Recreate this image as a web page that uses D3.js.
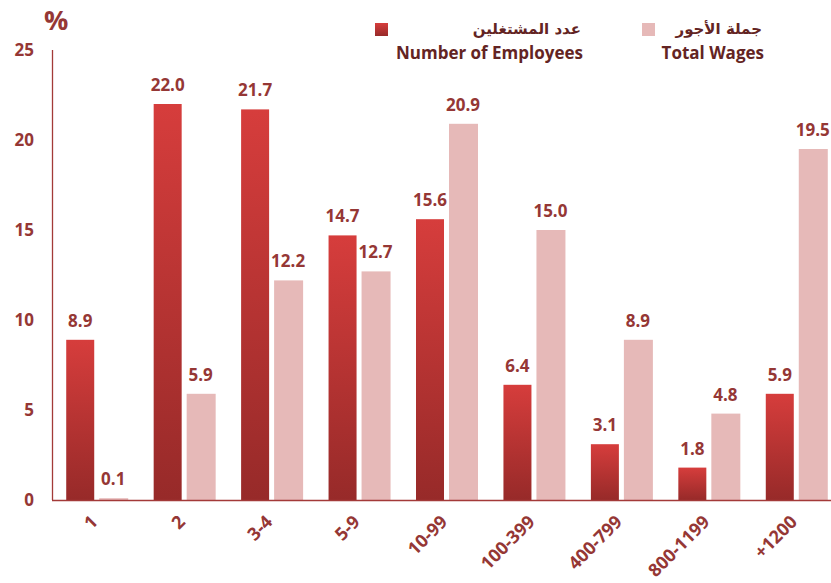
<!DOCTYPE html>
<html>
<head>
<meta charset="utf-8">
<script src="https://cdn.jsdelivr.net/npm/d3@7"></script>
<style>
  body { margin: 0; background: #fff; }
  text { font-family: "Open Sans", "DejaVu Sans", sans-serif; font-weight: bold; }
</style>
</head>
<body>
<svg></svg>
<script>
const width = 831;
const height = 583;

const categories = ["1", "2", "3-4", "5-9", "10-99", "100-399", "400-799", "800-1199", "+1200"];
const employees = [8.9, 22.0, 21.7, 14.7, 15.6, 6.4, 3.1, 1.8, 5.9];
const wages = [0.1, 5.9, 12.2, 12.7, 20.9, 15.0, 8.9, 4.8, 19.5];
const yTicks = [0, 5, 10, 15, 20, 25];

const labelColor = "#953735";
const legendColor = "#632423";

const svg = d3.select('svg').attr('width', width).attr('height', height);

const defs = svg.append('defs');
const grad = defs.append('linearGradient').attr('id', 'darkGrad')
    .attr('x1', 0).attr('y1', 0).attr('x2', 0).attr('y2', 1);
grad.append('stop').attr('offset', '0%').attr('stop-color', '#d63d3c');
grad.append('stop').attr('offset', '100%').attr('stop-color', '#972a29');

const x = d3.scaleBand().domain(categories).range([52, 839]).paddingInner(0).paddingOuter(0);
const y = d3.scaleLinear().domain([0, 25]).range([500, 50]);
const barW = 28, gap = 5;

// y axis line
svg.append('line').attr('x1', 52.5).attr('x2', 52.5).attr('y1', y(25)).attr('y2', y(0))
    .attr('stroke', '#a33a38').attr('stroke-width', 1.3);

// y tick labels
svg.selectAll('.ytick').data(yTicks).join('text')
    .attr('class', 'ytick')
    .attr('x', 34).attr('y', d => y(d) + 6)
    .attr('text-anchor', 'end')
    .attr('fill', labelColor)
    .style('font-size', '17px')
    .text(d => d);

svg.append('text').attr('x', 44).attr('y', 30)
    .attr('fill', labelColor).style('font-size', '27px').text('%');

// bars
const groups = svg.selectAll('.grp').data(categories).join('g')
    .attr('class', 'grp')
    .attr('transform', d => `translate(${x(d) + x.bandwidth() / 2},0)`);

groups.append('rect')
    .attr('x', -barW - gap / 2 + 1)
    .attr('y', (d, i) => y(employees[i]))
    .attr('width', barW)
    .attr('height', (d, i) => y(0) - y(employees[i]))
    .attr('fill', 'url(#darkGrad)');

groups.append('rect')
    .attr('x', gap / 2 + 1)
    .attr('y', (d, i) => y(wages[i]))
    .attr('width', barW + 1)
    .attr('height', (d, i) => y(0) - y(wages[i]))
    .attr('fill', '#e6b9b8');

groups.append('text')
    .attr('x', -barW / 2 - gap / 2 + 1)
    .attr('y', (d, i) => y(employees[i]) - 13)
    .attr('text-anchor', 'middle')
    .attr('fill', labelColor)
    .style('font-size', '17px')
    .text((d, i) => employees[i].toFixed(1));

groups.append('text')
    .attr('x', barW / 2 + gap / 2 + 1)
    .attr('y', (d, i) => y(wages[i]) - 13)
    .attr('text-anchor', 'middle')
    .attr('fill', labelColor)
    .style('font-size', '17px')
    .text((d, i) => wages[i].toFixed(1));

// baseline
svg.append('line').attr('x1', 52).attr('x2', width).attr('y1', 500.5).attr('y2', 500.5)
    .attr('stroke', '#a33a38').attr('stroke-width', 1.3);

// x labels
groups.append('text')
    .attr('transform', 'translate(3,523) rotate(-45)')
    .attr('text-anchor', 'end')
    .attr('fill', labelColor)
    .style('font-size', '18px')
    .text(d => d);

// legend
const legend = [
    { ar: "عدد المشتغلين", en: "Number of Employees", fill: "url(#darkGrad)", sx: 375, tx: 583 },
    { ar: "جملة الأجور", en: "Total Wages", fill: "#e6b9b8", sx: 642, tx: 764 }
];
const lg = svg.selectAll('.lg').data(legend).join('g').attr('class', 'lg');
lg.append('rect').attr('x', d => d.sx).attr('y', 23).attr('width', 13).attr('height', 13)
    .attr('fill', d => d.fill);
lg.append('text').attr('x', d => d.tx - 2).attr('y', 34)
    .attr('text-anchor', 'end').attr('fill', legendColor)
    .style('font-size', '15px').style('font-family', '"DejaVu Sans", sans-serif')
    .text(d => d.ar);
lg.append('text').attr('x', d => d.tx).attr('y', 59)
    .attr('text-anchor', 'end').attr('fill', legendColor)
    .style('font-size', '17px')
    .text(d => d.en);
</script>
</body>
</html>
